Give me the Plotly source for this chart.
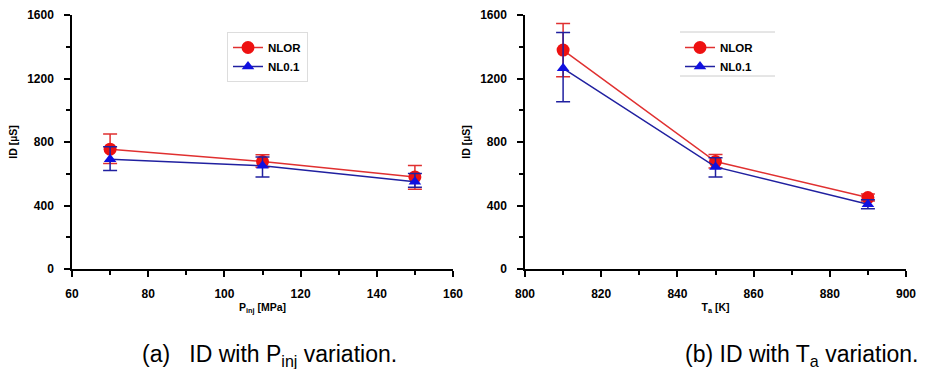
import plotly.graph_objects as go

# ---- data ----
pinj = [70, 110, 150]
nlor_pinj = [755, 677, 580]
nlor_pinj_up = [95, 42, 72]
nlor_pinj_dn = [90, 36, 78]
nl01_pinj = [692, 650, 549]
nl01_pinj_up = [78, 56, 52]
nl01_pinj_dn = [72, 70, 34]

ta = [810, 850, 890]
nlor_ta = [1379, 677, 450]
nlor_ta_up = [168, 44, 22]
nlor_ta_dn = [168, 40, 22]
nl01_ta = [1264, 643, 408]
nl01_ta_up = [225, 58, 28]
nl01_ta_dn = [211, 63, 28]

RED = "#ee1111"
RED_LINE = "#e03030"
BLUE = "#1010e0"
BLUE_LINE = "#2020a0"
FONT = "Liberation Sans, Arial, sans-serif"

W, H = 925, 369

def px(x):
    return x / W

def py(y):
    return 1 - y / H

fig = go.Figure()

def add_series(x, y, up, dn, name, color, lcolor, symbol, size, xa, ya, legend):
    fig.add_trace(go.Scatter(
        x=x, y=y, name=name, mode="lines+markers",
        line=dict(color=lcolor, width=1.5),
        marker=dict(color=color, symbol=symbol, size=size),
        error_y=dict(type="data", array=up, arrayminus=dn, color=lcolor,
                     thickness=1.5, width=7, visible=True),
        xaxis=xa, yaxis=ya, legend=legend,
    ))

add_series(pinj, nlor_pinj, nlor_pinj_up, nlor_pinj_dn, "NLOR", RED, RED_LINE, "circle", 13, "x", "y", "legend")
add_series(pinj, nl01_pinj, nl01_pinj_up, nl01_pinj_dn, "NL0.1", BLUE, BLUE_LINE, "triangle-up", 11, "x", "y", "legend")
add_series(ta, nlor_ta, nlor_ta_up, nlor_ta_dn, "NLOR", RED, RED_LINE, "circle", 13, "x2", "y2", "legend2")
add_series(ta, nl01_ta, nl01_ta_up, nl01_ta_dn, "NL0.1", BLUE, BLUE_LINE, "triangle-up", 11, "x2", "y2", "legend2")

tickfont = dict(family=FONT, size=12, color="black", weight="bold")
titlefont = dict(family=FONT, size=10.5, color="black", weight="bold")

def xaxis(domain, rng, title, anchor):
    return dict(
        domain=domain, range=rng, anchor=anchor, automargin=False,
        dtick=20, tick0=0, showgrid=False, zeroline=False,
        showline=True, linecolor="black", linewidth=1.5,
        ticks="outside", ticklen=6, tickwidth=1.5, tickcolor="black",
        minor=dict(ticks="outside", ticklen=4, tickwidth=1.5, tickcolor="black", dtick=10, showgrid=False),
        tickfont=tickfont, ticklabelstandoff=7,
        title=dict(text=title, font=titlefont, standoff=3),
    )

def yaxis(domain, anchor):
    return dict(
        domain=domain, range=[0, 1600], anchor=anchor, automargin=False,
        dtick=400, tick0=0, showgrid=False, zeroline=False,
        showline=True, linecolor="black", linewidth=1.5,
        ticks="outside", ticklen=6, tickwidth=1.5, tickcolor="black",
        minor=dict(ticks="outside", ticklen=4, tickwidth=1.5, tickcolor="black", dtick=200, showgrid=False),
        tickfont=tickfont, ticklabelstandoff=8,
        title=dict(text="ID [µS]", font=titlefont, standoff=7),
    )

ydom = [py(269), py(15)]
fig.update_layout(
    width=W, height=H,
    margin=dict(l=0, r=0, t=0, b=0, autoexpand=False),
    paper_bgcolor="white", plot_bgcolor="white",
    showlegend=True,
    xaxis=xaxis([px(72), px(453)], [60, 160], "P<sub>inj</sub> [MPa]", "y"),
    yaxis=yaxis(ydom, "x"),
    xaxis2=xaxis([px(525), px(906)], [800, 900], "T<sub>a</sub> [K]", "y2"),
    yaxis2=yaxis(ydom, "x2"),
    legend=dict(x=px(227), y=py(32), xanchor="left", yanchor="top",
                bgcolor="white", bordercolor="#dddddd", borderwidth=1,
                font=dict(family=FONT, size=11.5, color="black", weight="bold"),
                tracegroupgap=0, itemwidth=30),
    legend2=dict(x=px(680), y=py(33), xanchor="left", yanchor="top",
                 bgcolor="rgba(0,0,0,0)", borderwidth=0,
                 font=dict(family=FONT, size=11.5, color="black", weight="bold"),
                 tracegroupgap=0, itemwidth=30),
)

# top and bottom rules of the right legend box
for yy in (32, 76):
    fig.add_shape(type="line", xref="paper", yref="paper",
                  x0=px(680), x1=px(775), y0=py(yy), y1=py(yy),
                  line=dict(color="#cccccc", width=1))

cap_font = dict(family=FONT, size=23, color="black")
fig.add_annotation(text="(a)\u00a0\u00a0\u00a0ID with P<sub>inj</sub> variation.",
                   x=px(140), y=py(339), xref="paper", yref="paper",
                   xanchor="left", yanchor="top", showarrow=False, font=cap_font)
fig.add_annotation(text="(b) ID with T<sub>a</sub> variation.",
                   x=px(683), y=py(339), xref="paper", yref="paper",
                   xanchor="left", yanchor="top", showarrow=False, font=cap_font)

fig.write_html("out.html", config={"displayModeBar": False},
               post_script="document.body.style.margin='0';document.body.style.overflow='hidden';")
